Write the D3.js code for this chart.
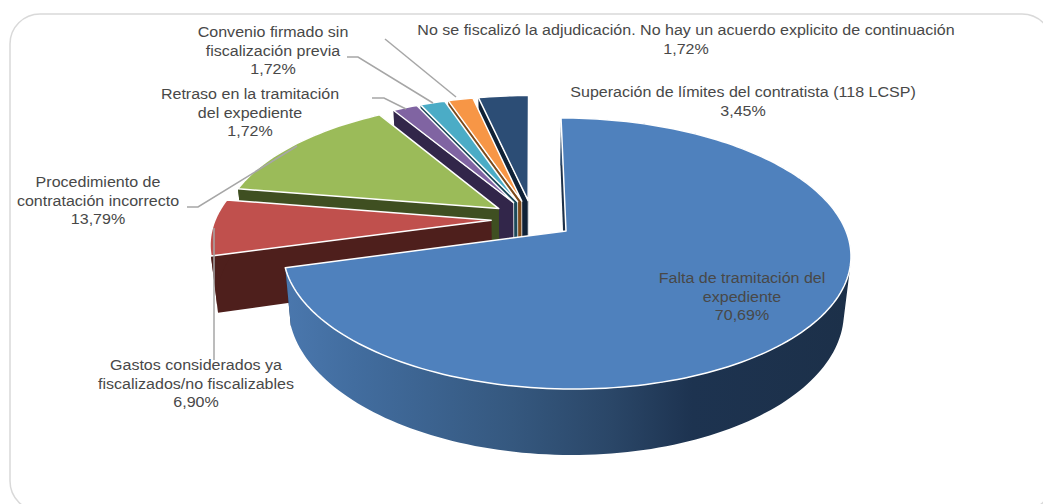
<!DOCTYPE html>
<meta charset="utf-8">
<style>
html, body { margin: 0; padding: 0; background: #fff; }
svg { display: block; }
text { font-family: "Liberation Sans", Arial, sans-serif; font-size: 15px; fill: #484848; text-anchor: middle; }
.leader { fill: none; stroke: #a6a6a6; stroke-width: 1.5px; }
</style>
<body>
<svg width="1043" height="504"></svg>
</body>
<script src="https://d3js.org/d3.v7.min.js"></script>
<script>

// slices in clockwise order, starting at 12 o'clock
var categories = [
  "Falta de tramitación del expediente",
  "Gastos considerados ya fiscalizados/no fiscalizables",
  "Procedimiento de contratación incorrecto",
  "Retraso en la tramitación del expediente",
  "Convenio firmado sin fiscalización previa",
  "No se fiscalizó la adjudicación. No hay un acuerdo explicito de continuación",
  "Superación de límites del contratista (118 LCSP)"
];
var values = [70.69, 6.90, 13.79, 1.72, 1.72, 1.72, 3.45];
var topColors = ["#4f81bd", "#c0504d", "#9bbb59", "#8064a2", "#4bacc6", "#f79646", "#2c4d75"];
var sideColors = ["url(#blueSide)", "#4e1f1c", "#3f4f21", "#32264a", "#1d4a5a", "#7d4a1a", "#0f2136"];

// how each label is broken into lines, same order as categories
var labelLines = [
  ["Falta de tramitación del", "expediente", "70,69%"],
  ["Gastos considerados ya", "fiscalizados/no fiscalizables", "6,90%"],
  ["Procedimiento de", "contratación incorrecto", "13,79%"],
  ["Retraso en la tramitación", "del expediente", "1,72%"],
  ["Convenio firmado sin", "fiscalización previa", "1,72%"],
  ["No se fiscalizó la adjudicación. No hay un acuerdo explicito de continuación", "1,72%"],
  ["Superación de límites del contratista (118 LCSP)", "3,45%"]
];
var labelX = [742, 196, 98, 250, 273, 686, 743];
var labelY = [283, 370, 187, 99, 37, 35, 97];

var leaders = [
  [[214, 228], [214, 360]],
  [[187, 207], [198, 207], [297, 146]],
  [[372, 98], [384, 98], [406, 109]],
  [[347, 57], [358, 57], [433, 103]],
  [[385, 39], [456, 97]]
];

var svg = d3.select("svg");

// frame runs off the picture at the right and bottom
svg.append("rect")
  .attr("x", 10).attr("y", 14)
  .attr("width", 1042).attr("height", 497)
  .attr("rx", 30)
  .attr("fill", "none")
  .attr("stroke", "#d9d9d9")
  .attr("stroke-width", 1.5);

var grad = svg.append("defs").append("linearGradient")
  .attr("id", "blueSide")
  .attr("gradientUnits", "userSpaceOnUse")
  .attr("x1", 286).attr("x2", 850).attr("y1", 0).attr("y2", 0);
[[0, "#4a77ad"], [0.12, "#426d9f"], [0.4, "#35587f"], [0.58, "#2a4667"], [0.72, "#1d3350"], [1, "#1c3049"]]
  .forEach(function(s) {
    grad.append("stop").attr("offset", s[0]).attr("stop-color", s[1]);
  });

// perspective of the tilted disc, origin is the tip of the big slice
var cx = 566, cy = 231;
var k = 0.166, a = 280, b = 131.8, skew = 5.8;
var depth = 55, explode = 0.15;

function project(u, v, down) {
  var w = 1 - k * v;
  var x = cx + (a * u + skew * v) / w;
  var y = cy + b * v / w;
  if (down) {
    var h = depth / w;
    y += h;
    x += (530 - x) * 0.00039 * h;
  }
  return [x, y];
}

var pie = d3.pie().sort(null).value(function(d) { return d; });
var arcs = pie(values);

function direction(angle) {
  return [Math.sin(angle), -Math.cos(angle)];
}

var blueDir = direction((arcs[0].startAngle + arcs[0].endAngle) / 2);
var line = d3.line();

arcs.forEach(function(d) {
  var dir = direction((d.startAngle + d.endAngle) / 2);
  d.u0 = explode * (dir[0] - blueDir[0]);
  d.v0 = explode * (dir[1] - blueDir[1]);
  var n = Math.max(4, Math.ceil((d.endAngle - d.startAngle) * 40));
  d.rim = d3.range(n + 1).map(function(i) {
    var t = d.startAngle + (d.endAngle - d.startAngle) * i / n;
    var e = direction(t);
    return [d.u0 + e[0], d.v0 + e[1]];
  });
});

function quadPoints(p, q) {
  var pts = [project(p[0], p[1]), project(q[0], q[1]), project(q[0], q[1], true), project(p[0], p[1], true)];
  // same winding for every quad, otherwise nonzero fill cancels at the fold
  return d3.polygonArea(pts) < 0 ? pts.reverse() : pts;
}

// paint far slices first, the big one last
var order = d3.range(arcs.length).reverse();

var slices = svg.selectAll("g.slice")
  .data(order)
  .enter()
  .append("g")
  .attr("class", "slice");

slices.each(function(i) {
  var d = arcs[i];
  var g = d3.select(this);
  var apex = [d.u0, d.v0];
  var first = d.rim[0], last = d.rim[d.rim.length - 1];
  var wallFill = i === 0 ? "#1c3049" : sideColors[i];

  g.append("path")
    .attr("d", line(quadPoints(apex, last)) + "Z")
    .attr("fill", wallFill);
  g.append("path")
    .attr("d", line(quadPoints(apex, first)) + "Z")
    .attr("fill", wallFill)
    .attr("stroke", i >= 3 ? "#fff" : "none")
    .attr("stroke-width", 0.75);

  // one quad per rim step so the fold at the silhouette stays filled
  var side = d3.pairs(d.rim).map(function(pair) {
    return line(quadPoints(pair[0], pair[1])) + "Z";
  }).join("");
  g.append("path").attr("d", side).attr("fill", sideColors[i]);

  var upper = d.rim.map(function(p) { return project(p[0], p[1]); });
  g.append("path")
    .attr("d", line([project(apex[0], apex[1])].concat(upper)) + "Z")
    .attr("fill", topColors[i])
    .attr("stroke", "#fff")
    .attr("stroke-width", 1.5)
    .attr("stroke-linejoin", "round");
});

svg.selectAll("path.leader")
  .data(leaders)
  .enter()
  .append("path")
  .attr("class", "leader")
  .attr("d", function(d) { return line(d); });

// the source picture is stretched sideways, so the text is too
svg.selectAll("text.label")
  .data(labelLines)
  .enter()
  .append("text")
  .attr("class", "label")
  .attr("transform", function(d, i) { return "translate(" + labelX[i] + "," + labelY[i] + ") scale(1.07,1)"; })
  .selectAll("tspan")
  .data(function(d) { return d; })
  .enter()
  .append("tspan")
  .attr("x", 0)
  .attr("y", function(d, i) { return i * 18.7; })
  .text(function(d) { return d; });

</script>
